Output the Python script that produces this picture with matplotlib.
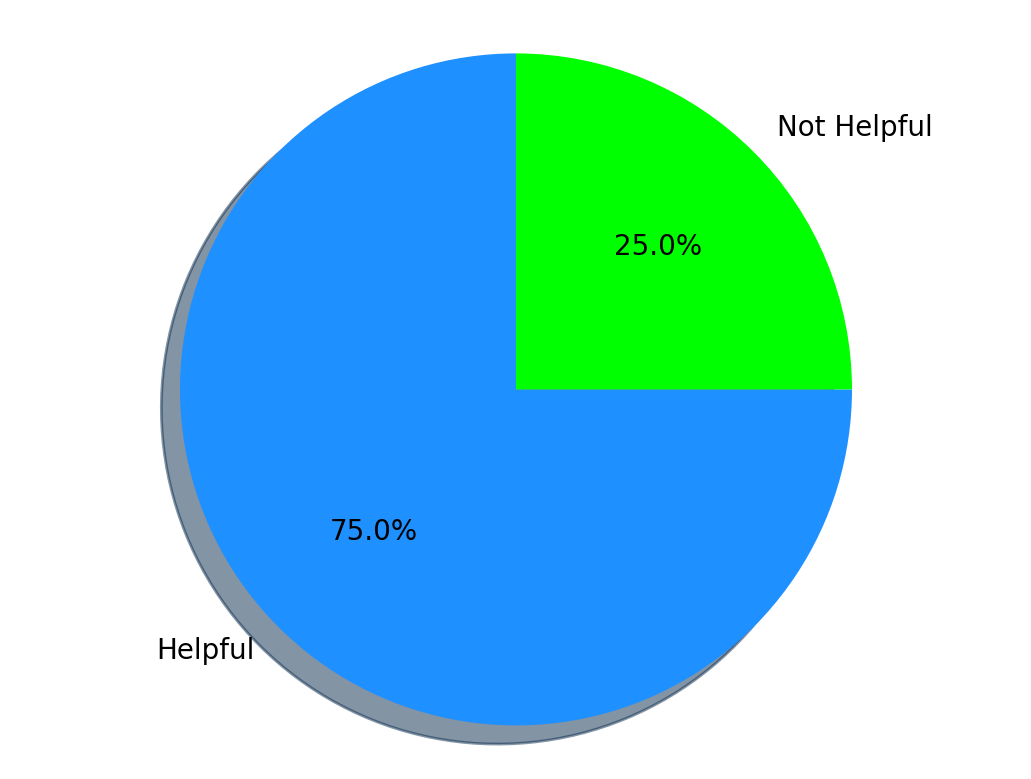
import matplotlib
matplotlib.use("Agg")
import matplotlib.pyplot as plt

labels = ["Helpful", "Not Helpful"]
sizes = [75, 25]
colors = ["dodgerblue", "lime"]

fig = plt.figure(figsize=(6.4, 4.8), dpi=200)
ax = fig.add_subplot(111)
ax.pie(sizes, labels=labels, colors=colors, autopct="%1.1f%%", shadow=True, startangle=90)
ax.axis("equal")
fig.savefig("out.png", dpi=200, bbox_inches="tight")
